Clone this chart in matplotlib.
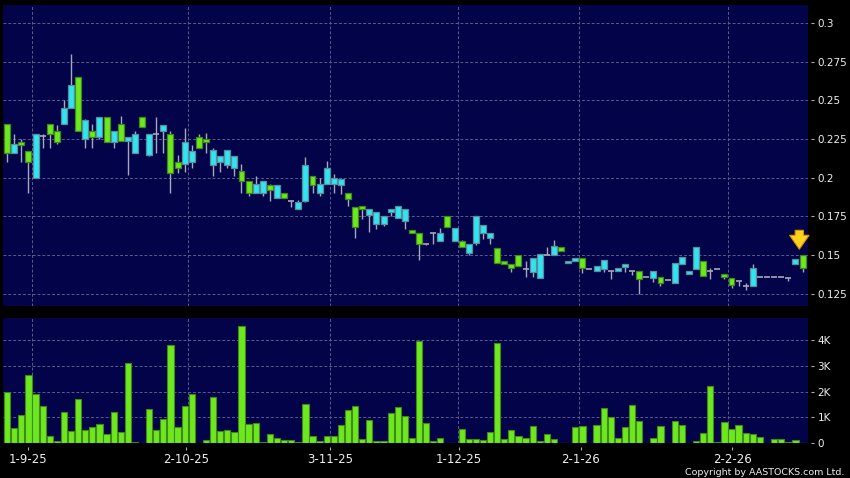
import numpy as np
import matplotlib
matplotlib.use('Agg')
import matplotlib.pyplot as plt
from matplotlib import font_manager

# daily OHLC, one entry per trading day (index 0 = 26-8-25)
opens = [0.216, 0.222, 0.221, 0.210, 0.228, 0.227, 0.228, 0.223, 0.245, 0.260,
         0.230, 0.237, 0.226, 0.239, 0.223, 0.230, 0.224, 0.226, 0.228, 0.233,
         0.228, 0.228, 0.234, 0.203, 0.206, 0.223, 0.217, 0.219, 0.223, 0.218,
         0.214, 0.218, 0.214, 0.198, 0.190, 0.196, 0.198, 0.192, 0.195, 0.187,
         0.185, 0.1845, 0.208, 0.1955, 0.196, 0.206, 0.200, 0.199, 0.1865, 0.168,
         0.180, 0.1795, 0.178, 0.1755, 0.180, 0.182, 0.1795, 0.1645, 0.157, 0.157,
         0.164, 0.164, 0.168, 0.1677, 0.1553, 0.157, 0.175, 0.1697, 0.1645, 0.1447,
         0.144, 0.1414, 0.1427, 0.141, 0.1483, 0.1504, 0.150, 0.1558, 0.1528, 0.1461,
         0.1483, 0.1414, 0.141, 0.1427, 0.1466, 0.1395, 0.1415, 0.1442, 0.1395, 0.1348,
         0.1357, 0.1395, 0.1318, 0.1338, 0.1447, 0.1485, 0.1395, 0.155, 0.1367, 0.1395,
         0.1408, 0.1357, 0.1306, 0.1335, 0.130, 0.1415, 0.1355, 0.1355, 0.1357, 0.1357,
         0.135, 0.1476, 0.1415]
highs = [0.235, 0.228, 0.225, 0.217, 0.228, 0.228, 0.235, 0.234, 0.250, 0.280,
         0.265, 0.238, 0.235, 0.239, 0.239, 0.230, 0.240, 0.226, 0.230, 0.239,
         0.228, 0.239, 0.234, 0.230, 0.215, 0.232, 0.221, 0.228, 0.229, 0.219,
         0.214, 0.218, 0.214, 0.209, 0.198, 0.201, 0.198, 0.196, 0.1955, 0.190,
         0.185, 0.1853, 0.2135, 0.201, 0.200, 0.2105, 0.2025, 0.199, 0.190, 0.181,
         0.182, 0.1795, 0.178, 0.1755, 0.180, 0.182, 0.1795, 0.166, 0.164, 0.157,
         0.164, 0.1677, 0.175, 0.1677, 0.160, 0.157, 0.175, 0.1697, 0.1645, 0.1547,
         0.146, 0.1442, 0.1498, 0.1464, 0.1483, 0.1504, 0.1553, 0.1596, 0.155, 0.1461,
         0.1483, 0.1483, 0.141, 0.1427, 0.1466, 0.1395, 0.1415, 0.1442, 0.1395, 0.1395,
         0.1357, 0.1395, 0.1355, 0.1338, 0.1447, 0.1485, 0.1395, 0.155, 0.1459, 0.1419,
         0.1408, 0.1376, 0.135, 0.1335, 0.1318, 0.1442, 0.1355, 0.1355, 0.1357, 0.1357,
         0.135, 0.1476, 0.1498]
lows = [0.210, 0.216, 0.210, 0.190, 0.200, 0.219, 0.219, 0.222, 0.235, 0.245,
        0.230, 0.219, 0.219, 0.225, 0.223, 0.219, 0.224, 0.202, 0.216, 0.233,
        0.214, 0.216, 0.216, 0.190, 0.203, 0.204, 0.206, 0.219, 0.216, 0.201,
        0.204, 0.206, 0.201, 0.190, 0.188, 0.190, 0.188, 0.185, 0.187, 0.187,
        0.181, 0.180, 0.184, 0.190, 0.188, 0.196, 0.190, 0.1895, 0.182, 0.161,
        0.1735, 0.165, 0.167, 0.169, 0.1755, 0.174, 0.167, 0.1645, 0.1465, 0.1564,
        0.157, 0.159, 0.168, 0.159, 0.1553, 0.150, 0.1568, 0.1603, 0.1573, 0.1447,
        0.144, 0.1393, 0.1427, 0.1357, 0.1355, 0.135, 0.150, 0.1498, 0.1528, 0.1447,
        0.146, 0.1387, 0.141, 0.1395, 0.1393, 0.1348, 0.1395, 0.1393, 0.1374, 0.125,
        0.1357, 0.1329, 0.1303, 0.1338, 0.1318, 0.144, 0.1376, 0.1408, 0.1367, 0.1348,
        0.1408, 0.1344, 0.1286, 0.130, 0.1276, 0.130, 0.1355, 0.1355, 0.1357, 0.1357,
        0.1335, 0.144, 0.1393]
closes = [0.235, 0.216, 0.223, 0.217, 0.200, 0.227, 0.235, 0.230, 0.235, 0.245,
          0.265, 0.225, 0.230, 0.226, 0.239, 0.223, 0.235, 0.224, 0.216, 0.239,
          0.215, 0.228, 0.230, 0.228, 0.210, 0.209, 0.210, 0.226, 0.225, 0.208,
          0.210, 0.208, 0.206, 0.2045, 0.198, 0.190, 0.190, 0.1955, 0.187, 0.190,
          0.185, 0.180, 0.185, 0.201, 0.190, 0.196, 0.196, 0.1955, 0.190, 0.181,
          0.182, 0.176, 0.170, 0.170, 0.178, 0.174, 0.172, 0.166, 0.164, 0.157,
          0.164, 0.159, 0.175, 0.159, 0.1592, 0.1515, 0.1575, 0.1643, 0.161, 0.1547,
          0.146, 0.1442, 0.1498, 0.141, 0.1393, 0.135, 0.150, 0.1498, 0.155, 0.1447,
          0.146, 0.1483, 0.141, 0.1395, 0.1408, 0.1395, 0.1395, 0.1425, 0.1395, 0.1395,
          0.1357, 0.135, 0.1355, 0.1338, 0.1318, 0.144, 0.1376, 0.1408, 0.1459, 0.1395,
          0.1408, 0.1376, 0.135, 0.1335, 0.130, 0.130, 0.1355, 0.1355, 0.1357, 0.1357,
          0.135, 0.144, 0.1498]
# volume in thousands of shares
volumes = [1.97, 0.58, 1.10, 2.63, 1.91, 1.43, 0.27, 0.10, 1.20, 0.46,
           1.73, 0.50, 0.65, 0.74, 0.37, 1.21, 0.44, 3.12, 0.06, 0.0,
           1.32, 0.53, 0.94, 3.80, 0.62, 1.45, 1.91, 0.02, 0.13, 1.79,
           0.46, 0.53, 0.45, 4.55, 0.75, 0.77, 0.04, 0.35, 0.22, 0.12,
           0.14, 0.04, 1.54, 0.30, 0.10, 0.30, 0.30, 0.70, 1.27, 1.45,
           0.18, 0.91, 0.09, 0.09, 1.17, 1.40, 1.04, 0.19, 3.95, 0.80,
           0.10, 0.19, 0.0, 0.0, 0.54, 0.15, 0.18, 0.14, 0.42, 3.90,
           0.18, 0.53, 0.30, 0.19, 0.66, 0.08, 0.35, 0.18, 0.03, 0.02,
           0.62, 0.67, 0.0, 0.72, 1.38, 1.03, 0.22, 0.62, 1.50, 0.85,
           0.0, 0.19, 0.67, 0.0, 0.86, 0.70, 0.0, 0.09, 0.39, 2.23,
           0.05, 0.81, 0.55, 0.70, 0.39, 0.37, 0.24, 0.0, 0.18, 0.17,
           0.04, 0.14, 0.0]

date_labels = ['1-9-25', '2-10-25', '3-11-25', '1-12-25', '2-1-26', '2-2-26']
date_ticks = [3, 25.2, 45.5, 63.6, 80.8, 102.1]
grid_x = [3.5, 25.5, 45.5, 63.5, 80.5, 101.5]
price_ticks = [0.125, 0.15, 0.175, 0.2, 0.225, 0.25, 0.275, 0.3]
vol_ticks = [0, 1, 2, 3, 4]
vol_labels = ['0', '1K', '2K', '3K', '4K']

BG = '#020348'
GRID = '#5a5a8c'
GREEN = '#6ee81e'
GREEN_EDGE = '#3f8a18'
CYAN = '#30e4f0'
CYAN_EDGE = '#5a8c9c'
WICK = '#a8a8ba'
TXT = '#eeeeee'

o = np.array(opens); h = np.array(highs); l = np.array(lows); c = np.array(closes)
x = np.arange(len(o))

fig = plt.figure(figsize=(8.5, 4.78), dpi=100, facecolor='black')
W, H = 850.0, 478.0
ax = fig.add_axes([3.3 / W, 1 - 306 / H, 804.7 / W, 301 / H])
axv = fig.add_axes([3.3 / W, 1 - 443.3 / H, 804.7 / W, 125.3 / H])

for a in (ax, axv):
    a.set_facecolor(BG)
    for s in a.spines.values():
        s.set_visible(False)
    a.set_xlim(-0.54, 112.77)
    for g in grid_x:
        a.axvline(g, color=GRID, lw=0.7, ls=(0, (3, 2)), zorder=0)
    a.yaxis.tick_right()
    a.spines['right'].set_position(('outward', 2.2))
    a.tick_params(axis='y', length=2, width=0.8, color='#b0b0b0', pad=2.6,
                  labelsize=7.5, labelcolor=TXT)
    a.grid(axis='y', color=GRID, lw=0.7, ls=(0, (3, 2)), zorder=0)
    a.set_axisbelow(True)

# candles
bw = 0.84
up = c > o
down = c < o
flat = c == o
ax.vlines(x, l, h, color=WICK, lw=1.0, zorder=2)
ax.bar(x[up], (c - o)[up], bottom=o[up], width=bw, color=GREEN,
       edgecolor=GREEN_EDGE, linewidth=0.9, zorder=3)
ax.bar(x[down], (o - c)[down], bottom=c[down], width=bw, color=CYAN,
       edgecolor=CYAN_EDGE, linewidth=0.9, zorder=3)
ax.hlines(o[flat], x[flat] - bw / 2, x[flat] + bw / 2, color=WICK, lw=1.2, zorder=3)

# marker arrow over the latest day
last = len(o) - 1
ax.annotate('', xy=(last - 0.45, h[last] + 0.0022), xytext=(last - 0.45, h[last] + 0.0180),
            arrowprops=dict(arrowstyle='simple,head_width=1.4,head_length=1.0,tail_width=0.6',
                            fc='#ffd21f', ec='#d89400', lw=0.8), zorder=5)

ax.set_ylim(0.11707, 0.31164)
ax.set_yticks(price_ticks)
ax.set_yticklabels(['%g' % t for t in price_ticks])
ax.set_xticks([])

# volume
axv.bar(x, volumes, width=0.88, color=GREEN, edgecolor=GREEN_EDGE, linewidth=0.8, zorder=3)
axv.set_ylim(0, 4.85)
axv.set_yticks(vol_ticks)
axv.set_yticklabels(vol_labels)
axv.spines['bottom'].set_position(('outward', 2.6))
axv.set_xticks(date_ticks)
axv.set_xticklabels(date_labels)
axv.tick_params(axis='x', length=2, width=0.8, color='#b0b0b0', pad=2.5,
                labelsize=8.5, labelcolor=TXT)

# copyright line, condensed face if one is installed
names = {f.name for f in font_manager.fontManager.ttflist}
cfam = None
for n in ['DejaVu Sans Condensed', 'Liberation Sans Narrow']:
    if n in names:
        cfam = n
        break
if cfam:
    fig.text(844 / W, 1 - 475 / H, 'Copyright by AASTOCKS.com Ltd.', family=cfam,
             fontsize=8.2, color=TXT, ha='right', va='baseline')
else:
    fig.text(844 / W, 1 - 475 / H, 'Copyright by AASTOCKS.com Ltd.', fontsize=6.8,
             color=TXT, ha='right', va='baseline')

fig.savefig('out.png', dpi=100, facecolor='black')
